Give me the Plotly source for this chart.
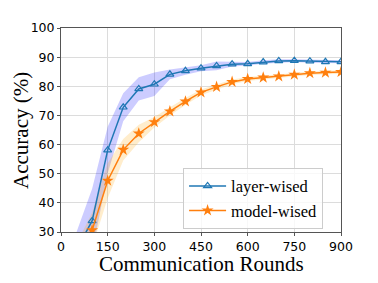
import plotly.graph_objects as go

rounds = [50, 100, 150, 200, 250, 300, 350, 400, 450, 500, 550, 600, 650, 700, 750, 800, 850, 900]
layer_mean = [24, 33.8, 58.1, 72.8, 79.1, 80.7, 84.1, 85.3, 86.2, 87.0, 87.6, 87.7, 88.3, 88.7, 88.8, 88.6, 88.4, 88.4]
layer_std = [6, 11, 8, 4.8, 4, 4, 1.7, 1.3, 1.0, 1.5, 0.8, 0.6, 0.6, 0.6, 0.5, 0.5, 0.5, 0.5]
model_mean = [22, 30.6, 47.6, 58.2, 63.8, 67.7, 71.4, 74.8, 77.9, 79.8, 81.5, 82.5, 83.0, 83.4, 84.0, 84.5, 84.7, 84.9]
model_std = [4, 6, 6, 3.7, 3, 1.8, 1.4, 1.2, 1.0, 0.9, 0.8, 0.7, 0.6, 0.6, 0.6, 0.6, 0.6, 0.6]

x_ticks = [0, 150, 300, 450, 600, 750, 900]
y_ticks = [30, 40, 50, 60, 70, 80, 90, 100]

fig = go.Figure()

def band(mean, std, color):
    up = [m + s for m, s in zip(mean, std)]
    lo = [m - s for m, s in zip(mean, std)]
    fig.add_trace(go.Scatter(x=rounds + rounds[::-1], y=up + lo[::-1], fill="toself",
                             fillcolor=color, line=dict(width=0), mode="lines",
                             showlegend=False, hoverinfo="skip"))

band(layer_mean, layer_std, "rgba(0,0,255,0.2)")
band(model_mean, model_std, "rgba(255,165,0,0.2)")

fig.add_trace(go.Scatter(x=rounds, y=layer_mean, mode="lines+markers", name="layer-wised",
                         line=dict(color="#1f77b4", width=1.5),
                         marker=dict(symbol="triangle-up-open", size=7, color="#1f77b4",
                                     line=dict(width=1.2, color="#1f77b4"))))
fig.add_trace(go.Scatter(x=rounds, y=model_mean, mode="lines+markers", name="model-wised",
                         line=dict(color="#ff7f0e", width=1.5),
                         marker=dict(symbol="star", size=9, color="#ff7f0e",
                                     line=dict(width=0))))

axis_common = dict(showgrid=True, gridcolor="#dcdcdc", gridwidth=1, showline=True,
                   linecolor="#555555", linewidth=1, mirror=True, ticks="outside",
                   ticklen=3, tickcolor="#555555", zeroline=False,
                   tickfont=dict(family="DejaVu Sans", size=12.5, color="black"))

title_font = dict(family="Liberation Serif", size=21, color="black")

fig.update_layout(
    width=370, height=275,
    margin=dict(l=53, r=37, t=18, b=51),
    paper_bgcolor="white", plot_bgcolor="white",
    xaxis=dict(range=[0, 900], tickvals=x_ticks, **axis_common),
    yaxis=dict(range=[30, 100], tickvals=y_ticks, **axis_common),
    legend=dict(x=0.436, y=0.315, xanchor="left", yanchor="top",
                bgcolor="rgba(255,255,255,0.8)", bordercolor="#cccccc", borderwidth=1,
                font=dict(family="Liberation Serif", size=16.5, color="black"),
                itemwidth=37, tracegroupgap=0),
    showlegend=True,
    annotations=[
        dict(text="Communication Rounds", x=0.5, y=-0.158, xref="paper", yref="paper",
             xanchor="center", yanchor="middle", showarrow=False, font=title_font),
        dict(text="Accuracy (%)", x=-0.143, y=0.5, xref="paper", yref="paper",
             xanchor="center", yanchor="middle", textangle=-90, showarrow=False,
             font=title_font),
    ],
)

fig.write_html("out.html")
